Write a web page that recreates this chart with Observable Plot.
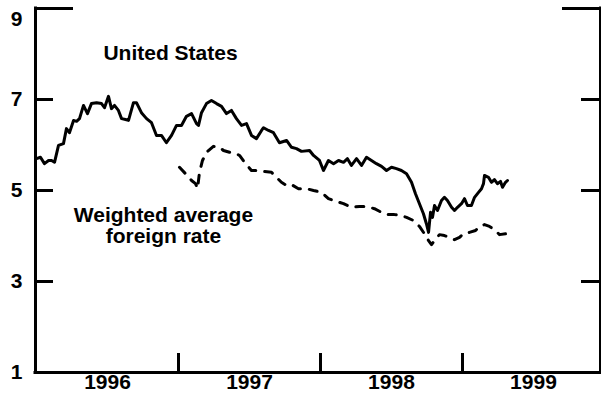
<!DOCTYPE html>
<html>
<head>
<meta charset="utf-8">
<script src="https://cdn.jsdelivr.net/npm/d3@7"></script>
<script src="https://cdn.jsdelivr.net/npm/@observablehq/plot@0.6"></script>
<style>
  html, body { margin: 0; padding: 0; background: #fff; }
  #chart svg { display: block; }
</style>
</head>
<body>
<div id="chart"></div>
<script>
// ---- data (decimal year, percent) ----
const usTime = [1996.000,1996.028,1996.056,1996.085,1996.106,1996.127,1996.155,1996.190,1996.211,1996.232,1996.261,1996.282,1996.303,1996.331,1996.359,1996.387,1996.423,1996.458,1996.479,1996.507,1996.528,1996.549,1996.577,1996.599,1996.627,1996.648,1996.683,1996.704,1996.739,1996.775,1996.810,1996.845,1996.880,1996.915,1996.951,1996.986,1997.021,1997.056,1997.092,1997.127,1997.141,1997.162,1997.197,1997.232,1997.268,1997.303,1997.338,1997.373,1997.408,1997.444,1997.479,1997.514,1997.549,1997.585,1997.599,1997.634,1997.669,1997.711,1997.761,1997.796,1997.831,1997.866,1997.923,1997.951,1997.993,1998.021,1998.056,1998.092,1998.127,1998.162,1998.190,1998.218,1998.254,1998.289,1998.324,1998.359,1998.394,1998.430,1998.465,1998.500,1998.535,1998.570,1998.606,1998.641,1998.669,1998.697,1998.725,1998.746,1998.761,1998.775,1998.789,1998.803,1998.824,1998.852,1998.873,1998.894,1998.923,1998.944,1998.965,1998.993,1999.014,1999.035,1999.063,1999.085,1999.113,1999.134,1999.148,1999.155,1999.183,1999.204,1999.225,1999.246,1999.268,1999.282,1999.303,1999.317];
const usRate = [5.70,5.73,5.59,5.66,5.66,5.62,5.99,6.03,6.36,6.27,6.54,6.52,6.58,6.87,6.69,6.91,6.93,6.91,6.82,7.07,6.80,6.87,6.76,6.58,6.56,6.54,6.93,6.93,6.71,6.58,6.49,6.21,6.21,6.05,6.21,6.43,6.43,6.63,6.69,6.47,6.43,6.71,6.91,6.98,6.91,6.85,6.69,6.76,6.58,6.43,6.47,6.21,6.14,6.32,6.38,6.32,6.27,6.05,6.10,5.95,5.92,5.86,5.88,5.77,5.66,5.44,5.66,5.59,5.66,5.62,5.70,5.55,5.70,5.55,5.73,5.66,5.59,5.53,5.44,5.51,5.48,5.44,5.37,5.18,4.93,4.71,4.49,4.27,4.08,4.52,4.41,4.67,4.56,4.78,4.85,4.78,4.63,4.56,4.63,4.71,4.82,4.67,4.67,4.85,4.96,5.04,5.15,5.33,5.29,5.18,5.24,5.15,5.20,5.07,5.18,5.22];

const foreignTime = [1997.007,1997.049,1997.092,1997.120,1997.134,1997.148,1997.169,1997.197,1997.246,1997.289,1997.317,1997.359,1997.408,1997.430,1997.465,1997.514,1997.549,1997.599,1997.655,1997.690,1997.725,1997.761,1997.796,1997.845,1997.901,1997.951,1998.007,1998.056,1998.113,1998.162,1998.218,1998.275,1998.324,1998.380,1998.430,1998.479,1998.521,1998.570,1998.606,1998.655,1998.697,1998.732,1998.761,1998.782,1998.803,1998.838,1998.873,1998.908,1998.944,1998.979,1999.007,1999.049,1999.092,1999.120,1999.155,1999.190,1999.225,1999.261,1999.310];
const foreignRate = [5.51,5.37,5.22,5.15,5.04,5.40,5.66,5.84,5.97,5.95,5.88,5.84,5.81,5.77,5.62,5.44,5.44,5.42,5.40,5.29,5.18,5.11,5.13,5.04,5.04,5.00,4.96,4.82,4.76,4.71,4.63,4.65,4.65,4.60,4.52,4.47,4.47,4.45,4.41,4.34,4.21,4.05,3.90,3.81,3.90,4.03,4.01,3.97,3.92,3.97,4.05,4.08,4.12,4.21,4.25,4.21,4.14,4.03,4.05];

const yTickValues = [9, 7, 5, 3, 1];
const yearBoundaries = [1997, 1998, 1999];
const yearLabels = ["1996", "1997", "1998", "1999"];
const seriesLabels = ["United States", "Weighted average\nforeign rate"];
const seriesLabelX = [1996.944, 1996.894];
const seriesLabelY = [8.02, 4.23];

// ---- build tables ----
const us = usTime.map((t, i) => ({t, v: usRate[i]}));
const foreign = foreignTime.map((t, i) => ({t, v: foreignRate[i]}));
const labels = seriesLabels.map((text, i) => ({text, x: seriesLabelX[i], y: seriesLabelY[i]}));

const W = 601, H = 407;
const mL = 35, mR = 1, mT = 8, mB = 35;
const pw = W - mL - mR, ph = H - mT - mB;
const xDomain = [1995.993, 1999.972];
const font = "'Liberation Sans', Arial, Helvetica, sans-serif";
const fs = 21;

const chart = Plot.plot({
  width: W, height: H,
  marginLeft: mL, marginRight: mR, marginTop: mT, marginBottom: mB,
  style: {fontFamily: font, fontSize: fs + "px", fontWeight: "bold", background: "#fff", color: "#000"},
  x: {type: "linear", domain: xDomain, axis: null},
  y: {domain: [1, 9], axis: null},
  marks: [
    // frame
    Plot.ruleX([xDomain[0], xDomain[1]], {stroke: "#000", strokeWidth: 3, strokeLinecap: "square"}),
    Plot.ruleY([1], {stroke: "#000", strokeWidth: 3, strokeLinecap: "square"}),
    // left ticks
    Plot.tickY(yTickValues.filter(d => d !== 9 && d !== 1), {stroke: "#000", strokeWidth: 3, insetRight: pw - 18}),
    Plot.tickY([9], {stroke: "#000", strokeWidth: 3, insetRight: pw - 38}),
    // right ticks
    Plot.tickY(yTickValues.filter(d => d !== 9 && d !== 1), {stroke: "#000", strokeWidth: 3, insetLeft: pw - 19}),
    Plot.tickY([9], {stroke: "#000", strokeWidth: 3, insetLeft: pw - 38}),
    // bottom year boundary ticks
    Plot.tickX(yearBoundaries, {stroke: "#000", strokeWidth: 3, insetTop: ph - 19}),
    // y labels
    Plot.text(yTickValues.filter(d => d !== 9), {y: d => d, text: d => String(d), frameAnchor: "left", dx: -19, textAnchor: "middle", fill: "#000"}),
    Plot.text([9], {y: d => d, text: d => String(d), frameAnchor: "left", dx: -19, dy: 10.5, textAnchor: "middle", fill: "#000"}),
    // year labels
    Plot.text(yearLabels, {x: d => +d + 0.5, text: d => d, frameAnchor: "bottom", dy: 16.5, textAnchor: "middle", fill: "#000"}),
    // series
    Plot.line(us, {x: "t", y: "v", stroke: "#000", strokeWidth: 3, strokeLinejoin: "round", strokeLinecap: "round"}),
    Plot.line(foreign, {x: "t", y: "v", stroke: "#000", strokeWidth: 3, strokeDasharray: "8,9", strokeLinecap: "round", strokeLinejoin: "round"}),
    // series labels
    Plot.text(labels, {x: "x", y: "y", text: "text", textAnchor: "middle", lineHeight: 1.02, fill: "#000"})
  ]
});
document.getElementById("chart").appendChild(chart);
</script>
</body>
</html>
